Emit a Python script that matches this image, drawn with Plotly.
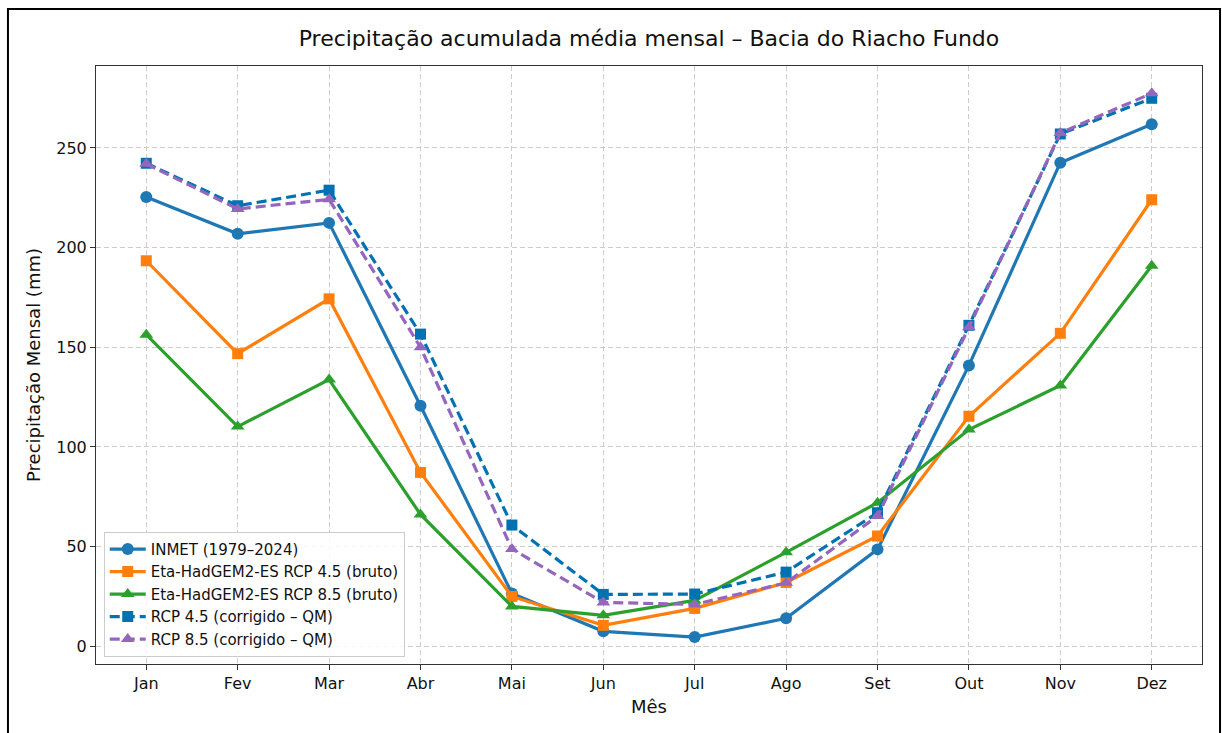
import plotly.graph_objects as go

meses = ["Jan", "Fev", "Mar", "Abr", "Mai", "Jun", "Jul", "Ago", "Set", "Out", "Nov", "Dez"]

inmet = [225.4, 206.9, 212.4, 120.7, 26.5, 7.5, 4.6, 14.0, 48.6, 140.9, 242.6, 261.9]
rcp45_bruto = [193.4, 146.8, 174.3, 87.2, 25.0, 10.5, 19.0, 32.0, 55.3, 115.4, 157.0, 224.0]
rcp85_bruto = [156.3, 110.2, 133.8, 66.1, 20.0, 15.5, 23.0, 47.1, 72.0, 108.7, 130.8, 190.9]
rcp45_qm = [242.3, 221.0, 228.8, 156.6, 60.8, 26.0, 26.2, 37.2, 67.0, 161.0, 257.0, 274.9]
rcp85_qm = [242.0, 219.4, 224.2, 150.0, 48.8, 22.0, 21.0, 31.8, 65.3, 160.0, 257.5, 277.4]

series = [
    ("INMET (1979–2024)", inmet, "#1f77b4", "solid", "circle", 12),
    ("Eta-HadGEM2-ES RCP 4.5 (bruto)", rcp45_bruto, "#ff7f0e", "solid", "square", 11),
    ("Eta-HadGEM2-ES RCP 8.5 (bruto)", rcp85_bruto, "#2ca02c", "solid", "triangle-up", 12),
    ("RCP 4.5 (corrigido – QM)", rcp45_qm, "#0072b2", "dash", "square", 11),
    ("RCP 8.5 (corrigido – QM)", rcp85_qm, "#9467bd", "dash", "triangle-up", 12),
]

fig = go.Figure()
for nome, vals, cor, estilo, simbolo, tam in series:
    fig.add_trace(go.Scatter(
        x=list(range(len(meses))), y=vals, name=nome, mode="lines+markers",
        line=dict(color=cor, width=3.2, dash="10px,5px" if estilo == "dash" else "solid"),
        marker=dict(symbol=simbolo, size=tam, color=cor),
    ))

font = "DejaVu Sans, Liberation Sans, sans-serif"
axis_common = dict(
    showline=True, linecolor="#333", linewidth=1, mirror=True,
    ticks="outside", ticklen=5, tickcolor="#333",
    showgrid=True, gridcolor="#cccccc", griddash="5px,3px", gridwidth=1,
    zeroline=False, tickfont=dict(size=16, color="#111"),
)

fig.update_layout(
    width=1222, height=733,
    margin=dict(l=96, r=20, t=66, b=69),
    paper_bgcolor="white", plot_bgcolor="white",
    font=dict(family=font, color="#111"),
    title=dict(text="Precipitação acumulada média mensal – Bacia do Riacho Fundo",
               x=0.5, xref="paper", xanchor="center", y=0.948, yanchor="middle",
               font=dict(size=22, color="#111")),
    xaxis=dict(axis_common, range=[-0.55, 11.55], tickmode="array",
               tickvals=list(range(len(meses))), ticktext=meses,
               title=dict(text="Mês", font=dict(size=18), standoff=8)),
    yaxis=dict(axis_common, range=[-8.9, 291.1], tickvals=[0, 50, 100, 150, 200, 250],
               title=dict(text="Precipitação Mensal (mm)", font=dict(size=18), standoff=10)),
    legend=dict(x=0.007, y=0.012, xanchor="left", yanchor="bottom",
                bgcolor="rgba(255,255,255,0.85)", bordercolor="#cccccc", borderwidth=1,
                font=dict(size=15, color="#111"), tracegroupgap=0, itemwidth=36),
    showlegend=True,
)

# outer figure frame
fig.add_shape(type="rect", xref="paper", yref="paper",
              x0=-0.0796, x1=1.0163, y0=-0.14, y1=1.0953,
              line=dict(color="black", width=2), layer="below")

fig.write_html("out.html", config={"displayModeBar": False},
               post_script="document.body.style.margin='0';")
